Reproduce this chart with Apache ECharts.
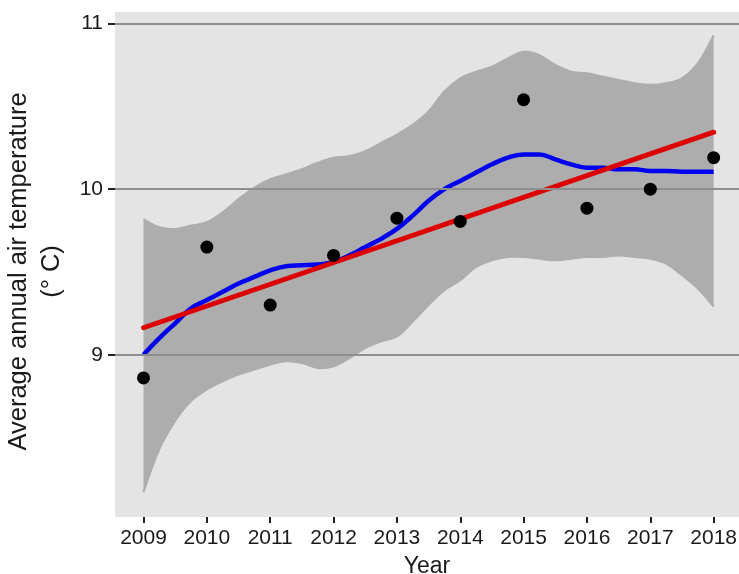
<!DOCTYPE html>
<html>
<head>
<meta charset="utf-8">
<script src="https://cdn.jsdelivr.net/npm/echarts@6/dist/echarts.min.js"></script>
<style>html,body{margin:0;padding:0;background:#fff;}#c{width:739px;height:574px;}</style>
</head>
<body>
<div id="c"></div>
<script>
// Observed annual means
const years = [2009, 2010, 2011, 2012, 2013, 2014, 2015, 2016, 2017, 2018];
const temps = [8.86, 9.65, 9.30, 9.60, 9.825, 9.805, 10.54, 9.885, 10.00, 10.19];

// Sample positions of the smooth curve and its confidence band
const smoothX = [2009.0, 2009.25, 2009.5, 2009.75, 2010.0, 2010.25, 2010.5, 2010.75, 2011.0, 2011.25, 2011.5, 2011.75,
  2012.0, 2012.25, 2012.5, 2012.75, 2013.0, 2013.25, 2013.5, 2013.75, 2014.0, 2014.25, 2014.5, 2014.75,
  2015.0, 2015.25, 2015.5, 2015.75, 2016.0, 2016.25, 2016.5, 2016.75, 2017.0, 2017.25, 2017.5, 2017.75, 2018.0];
const smoothY = [9.00, 9.10, 9.19, 9.28, 9.33, 9.38, 9.43, 9.47, 9.51, 9.535, 9.54, 9.545,
  9.56, 9.60, 9.65, 9.70, 9.76, 9.84, 9.93, 10.00, 10.05, 10.10, 10.15, 10.19,
  10.21, 10.21, 10.18, 10.15, 10.13, 10.13, 10.12, 10.12, 10.11, 10.11, 10.105, 10.105, 10.105];
const bandUpper = [9.82, 9.77, 9.76, 9.78, 9.80, 9.86, 9.94, 10.01, 10.06, 10.09, 10.12, 10.16,
  10.19, 10.20, 10.23, 10.28, 10.33, 10.39, 10.47, 10.59, 10.67, 10.71, 10.74, 10.79,
  10.83, 10.81, 10.75, 10.71, 10.70, 10.68, 10.66, 10.64, 10.63, 10.64, 10.67, 10.76, 10.93];
const bandLower = [8.17, 8.43, 8.60, 8.72, 8.79, 8.84, 8.88, 8.91, 8.94, 8.96, 8.95, 8.92,
  8.93, 8.98, 9.04, 9.08, 9.11, 9.20, 9.30, 9.39, 9.45, 9.53, 9.57, 9.59,
  9.59, 9.58, 9.57, 9.58, 9.59, 9.59, 9.60, 9.59, 9.58, 9.55, 9.48, 9.40, 9.29];

// Linear trend end points
const trendX = [2009, 2018];
const trendY = [9.163, 10.344];

// Tick labels
const xTicks = years;
const yTicks = [9, 10, 11];

const chart = echarts.init(document.getElementById('c'), null, {renderer: 'canvas'});
const font = 'Liberation Sans, Arial, Helvetica, sans-serif';

chart.setOption({
  animation: false,
  backgroundColor: '#ffffff',
  grid: {left: 115, right: 0, top: 12, bottom: 57, show: true, backgroundColor: '#e4e4e4', borderWidth: 0,
         containLabel: false, outerBoundsMode: 'none'},
  xAxis: {
    type: 'value', min: 2008.55, max: 2018.4,
    axisLine: {show: false},
    axisTick: {show: true, customValues: xTicks, length: 6, lineStyle: {color: '#222', width: 2}},
    axisLabel: {customValues: xTicks, fontSize: 21, color: '#1a1a1a', fontFamily: font, margin: 11,
                formatter: v => String(v)},
    splitLine: {show: false},
    name: 'Year', nameLocation: 'middle', nameGap: 38,
    nameTextStyle: {fontSize: 23, color: '#1a1a1a', fontFamily: font}
  },
  yAxis: {
    type: 'value', min: 8.02, max: 11.07,
    axisLine: {show: false},
    axisTick: {show: true, customValues: yTicks, length: 7, lineStyle: {color: '#222', width: 2}},
    axisLabel: {customValues: yTicks, fontSize: 21, color: '#1a1a1a', fontFamily: font, margin: 12,
                formatter: v => String(v)},
    splitLine: {show: false},
    name: 'Average annual air temperature\n(° C)', nameLocation: 'middle', nameRotate: 90, nameGap: 34,
    nameTextStyle: {fontSize: 25.5, color: '#1a1a1a', fontFamily: font, lineHeight: 33, padding: [0, 14, 0, 0]}
  },
  series: [
    {
      type: 'custom', z: 1, silent: true,
      data: [[smoothX[0], bandLower[0]]],
      renderItem: function (params, api) {
        const top = [], bot = [];
        for (let i = 0; i < smoothX.length; i++) top.push(api.coord([smoothX[i], bandUpper[i]]));
        for (let i = smoothX.length - 1; i >= 0; i--) bot.push(api.coord([smoothX[i], bandLower[i]]));
        return {
          type: 'group',
          children: [
            {type: 'polygon', shape: {points: top.concat(bot), smooth: 0}, style: {fill: '#adadad'}},
            {type: 'polyline', shape: {points: top, smooth: 0.35}, style: {stroke: '#adadad', lineWidth: 2, fill: null}},
            {type: 'polyline', shape: {points: bot, smooth: 0.35}, style: {stroke: '#adadad', lineWidth: 2, fill: null}}
          ]
        };
      }
    },
    {
      type: 'line', z: 2, silent: true, data: [], symbol: 'none',
      markLine: {
        silent: true, symbol: ['none', 'none'], label: {show: false},
        lineStyle: {color: '#8e8e8e', width: 2, type: 'solid'},
        data: yTicks.map(v => ({yAxis: v}))
      }
    },
    {
      type: 'line', z: 3, silent: true, symbol: 'none', smooth: 0.4,
      data: smoothX.map((x, i) => [x, smoothY[i]]),
      lineStyle: {color: '#0000ee', width: 4.5}
    },
    {
      type: 'line', z: 4, silent: true, symbol: 'none',
      data: trendX.map((x, i) => [x, trendY[i]]),
      lineStyle: {color: '#dd0000', width: 5, cap: 'round'}
    },
    {
      type: 'scatter', z: 5, silent: true, symbolSize: 13,
      data: years.map((x, i) => [x, temps[i]]),
      itemStyle: {color: '#000000', opacity: 1}
    }
  ]
});
</script>
</body>
</html>
